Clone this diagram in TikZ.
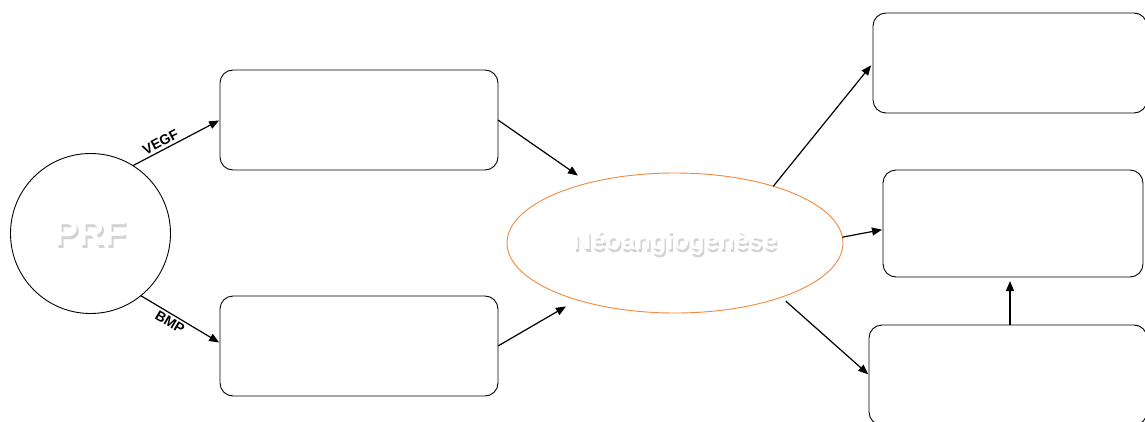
\documentclass[tikz,border=0pt]{standalone}
\usepackage{fontspec}
\setmainfont{Liberation Sans}
\usetikzlibrary{shapes.geometric,arrows.meta}
\definecolor{ellorange}{HTML}{F0883E}
\tikzset{
  x=1pt,y=1pt,
  box/.style={draw=black,line width=0.9pt,rounded corners=13pt,inner sep=0pt,outer sep=0pt},
  conn/.style={line width=1.2pt,-{Triangle[length=10pt,width=8pt]}},
  shad/.style={text=black!50,opacity=0.35},
  lab/.style={font=\bfseries\fontsize{14}{14}\selectfont,inner sep=2.5pt},
}
\begin{document}
\begin{tikzpicture}
\useasboundingbox (0,0) rectangle (1145,421);
% PRF circle
\node[circle,draw,line width=0.9pt,minimum size=160pt,inner sep=0pt,outer sep=0pt] (prf) at (90.5,187.5) {};
\node[shad,font=\bfseries\fontsize{36}{36}\selectfont] (prfs) at (92,185) {PRF};
\node[text=white,font=\bfseries\fontsize{36}{36}\selectfont] (prft) at (90.5,187.5) {PRF};
% boxes
\node[box,minimum width=278pt,minimum height=100pt] (b1) at (359,301) {};
\node[box,minimum width=278pt,minimum height=100pt] (b2) at (359,75) {};
\node[box,minimum width=274pt,minimum height=100pt] (b3) at (1010,358) {};
\node[box,minimum width=260pt,minimum height=107pt] (b4) at (1013,197.5) {};
\node[box,minimum width=278pt,minimum height=100pt] (b5) at (1008,46) {};
\coordinate (b5top) at (1010,96);
% ellipse
\node[ellipse,draw=ellorange,line width=0.9pt,minimum width=336pt,minimum height=140pt,inner sep=0pt,outer sep=0pt] (ell) at (675,178) {};
\node[shad,font=\bfseries\fontsize{25.5}{25.5}\selectfont] (ells) at (676.5,175.5) {Néoangiogenèse};
\node[text=white,font=\bfseries\fontsize{25.5}{25.5}\selectfont] (ellt) at (675,178) {Néoangiogenèse};
% connectors
\draw[conn,shorten >=1pt] (prf.58) -- (b1.west) node[pos=0.36,above,sloped,lab] (lvegf) {VEGF};
\draw[conn,shorten >=1pt] (prf.-51) -- ([yshift=3pt]b2.west) node[pos=0.42,below,sloped,lab] (lbmp) {BMP};
\draw[conn,shorten >=13pt] (b1.east) -- (ell);
\draw[conn,shorten >=13pt] (b2.east) -- (ell);
\draw[conn,shorten >=3pt] (ell.30) -- (b3.west);
\draw[conn,shorten >=1pt] (ell.2) -- ([yshift=-6pt]b4.west);
\draw[conn,shorten >=1pt,shorten <=6pt] (ell.-27) -- (b5.west);
\draw[conn,shorten >=4pt] (b5top) -- (b5top |- b4.south);
\end{tikzpicture}
\end{document}
